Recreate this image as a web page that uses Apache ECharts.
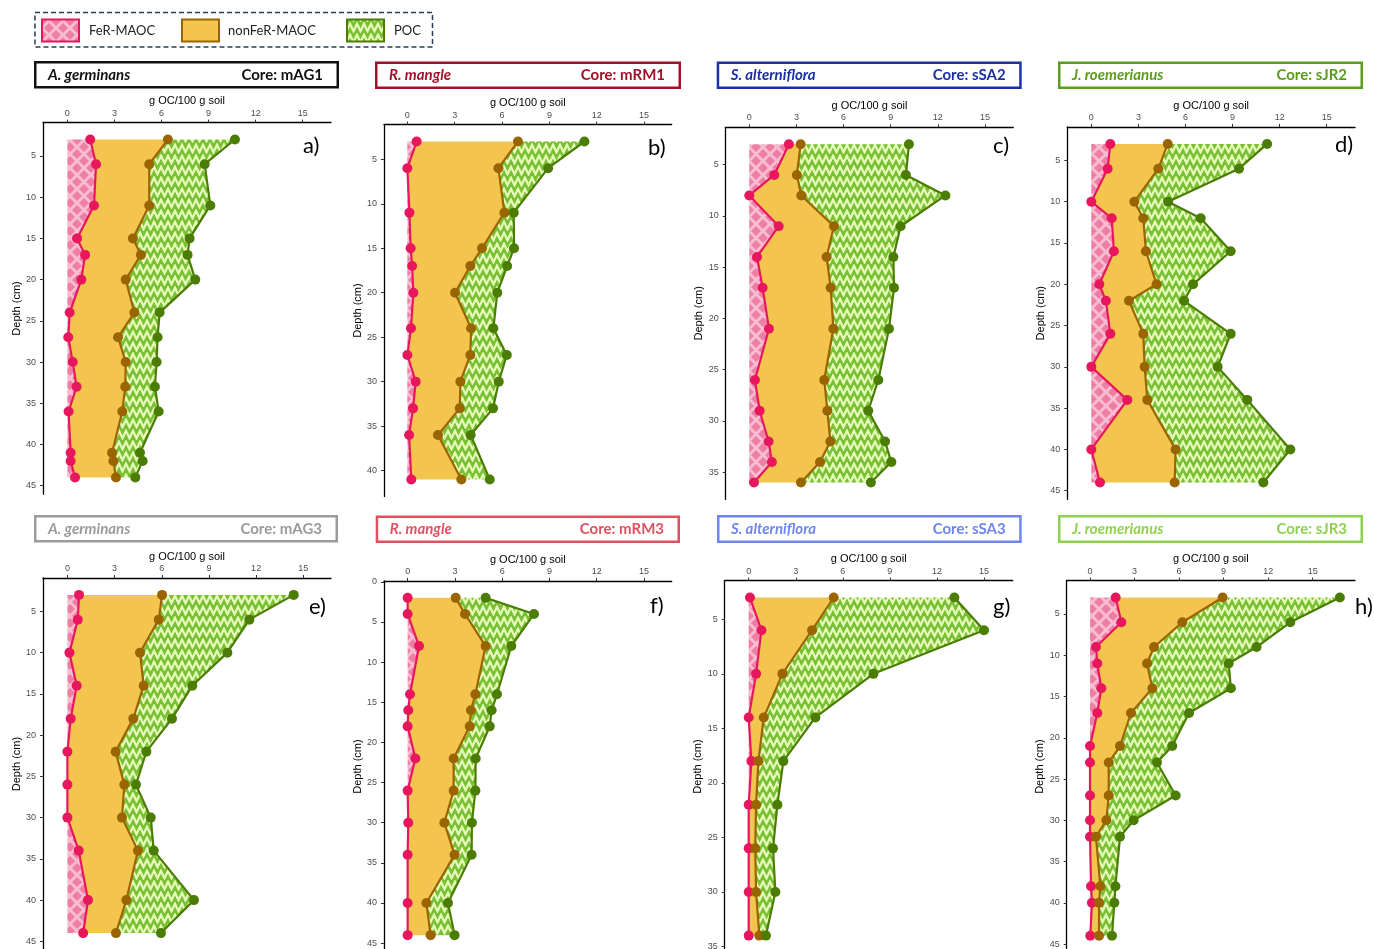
<!DOCTYPE html>
<html>
<head>
<meta charset="utf-8">
<script src="https://cdn.jsdelivr.net/npm/echarts@6.0.0/dist/echarts.min.js"></script>
<style>
html, body { margin: 0; padding: 0; background: #fff; }
#chart { width: 1374px; height: 949px; }
</style>
</head>
<body>
<div id="chart"></div>
<script>
// categories / labels
const legendNames = ['FeR-MAOC', 'nonFeR-MAOC', 'POC'];
const species = ['A. germinans', 'R. mangle', 'S. alterniflora', 'J. roemerianus',
                 'A. germinans', 'R. mangle', 'S. alterniflora', 'J. roemerianus'];
const cores = ['mAG1', 'mRM1', 'sSA2', 'sJR2', 'mAG3', 'mRM3', 'sSA3', 'sJR3'];
const letters = ['a)', 'b)', 'c)', 'd)', 'e)', 'f)', 'g)', 'h)'];
const xTicks = [0, 3, 6, 9, 12, 15];
const depthTicks = [0, 5, 10, 15, 20, 25, 30, 35, 40, 45];

// a) mAG1
const depthA = [3, 6, 11, 15, 17, 20, 24, 27, 30, 33, 36, 41, 42, 44];
const ferA = [1.46, 1.83, 1.70, 0.62, 1.13, 0.89, 0.15, 0.06, 0.34, 0.59, 0.08, 0.21, 0.21, 0.49];
const nonferA = [4.95, 3.39, 3.52, 3.56, 3.56, 2.83, 4.12, 3.17, 3.38, 3.10, 3.42, 2.64, 2.72, 2.61];
const pocA = [4.27, 3.53, 3.89, 3.61, 2.97, 4.43, 1.61, 2.52, 1.97, 1.89, 2.32, 1.78, 1.87, 1.23];
// b) mRM1
const depthB = [3, 6, 11, 15, 17, 20, 24, 27, 30, 33, 36, 41];
const ferB = [0.59, 0.0, 0.13, 0.21, 0.30, 0.38, 0.23, 0.0, 0.53, 0.36, 0.11, 0.25];
const nonferB = [6.42, 5.77, 6.02, 4.52, 3.69, 2.64, 3.81, 3.99, 2.83, 2.96, 1.83, 3.17];
const pocB = [4.21, 3.15, 0.59, 2.03, 2.33, 2.68, 1.41, 2.31, 2.43, 2.11, 2.07, 1.80];
// c) sSA2
const depthC = [3, 6, 8, 11, 14, 17, 21, 26, 29, 32, 34, 36];
const ferC = [2.52, 1.59, 0.0, 1.87, 0.49, 0.85, 1.25, 0.36, 0.66, 1.23, 1.44, 0.30];
const nonferC = [0.75, 1.44, 3.31, 3.52, 4.43, 4.33, 4.10, 4.41, 4.31, 3.93, 3.06, 2.99];
const pocC = [6.89, 6.94, 9.17, 4.24, 4.25, 4.03, 3.54, 3.44, 2.60, 3.48, 4.54, 4.45];
// d) sJR2
const depthD = [3, 6, 10, 12, 16, 20, 22, 26, 30, 34, 40, 44];
const ferD = [1.21, 1.04, 0.0, 1.30, 1.44, 0.51, 0.93, 1.21, 0.0, 2.29, 0.0, 0.55];
const nonferD = [3.66, 3.23, 2.74, 2.01, 2.04, 3.65, 1.47, 2.10, 3.40, 1.28, 5.37, 4.76];
const pocD = [6.33, 5.14, 2.15, 3.66, 5.40, 2.32, 3.51, 5.57, 4.65, 6.37, 7.31, 5.65];
// e) mAG3
const depthE = [3, 6, 10, 14, 18, 22, 26, 30, 34, 40, 44];
const ferE = [0.74, 0.66, 0.13, 0.59, 0.21, 0.0, 0.0, 0.0, 0.72, 1.31, 1.0];
const nonferE = [5.28, 5.15, 4.49, 4.26, 3.98, 3.07, 3.62, 3.47, 3.77, 2.44, 2.09];
const pocE = [8.37, 5.76, 5.55, 3.09, 2.46, 1.95, 0.74, 1.83, 1.00, 4.30, 2.86];
// f) mRM3
const depthF = [2, 4, 8, 14, 16, 18, 22, 26, 30, 34, 40, 44];
const ferF = [0.0, 0.0, 0.72, 0.15, 0.04, 0.0, 0.49, 0.0, 0.04, 0.0, 0.0, 0.0];
const nonferF = [3.05, 3.64, 4.23, 4.15, 3.98, 3.94, 2.43, 2.92, 2.29, 2.98, 1.19, 1.46];
const pocF = [1.90, 4.38, 1.63, 1.37, 1.31, 1.27, 1.40, 1.38, 1.75, 1.08, 1.37, 1.52];
// g) sSA3
const depthG = [3, 6, 10, 14, 18, 22, 26, 30, 34];
const ferG = [0.08, 0.81, 0.47, 0.0, 0.17, 0.0, 0.0, 0.0, 0.0];
const nonferG = [5.34, 3.23, 1.68, 0.96, 0.45, 0.47, 0.42, 0.47, 0.68];
const pocG = [7.69, 10.96, 5.80, 3.29, 1.59, 1.36, 1.13, 1.23, 0.42];
// h) sJR3
const depthH = [3, 6, 9, 11, 14, 17, 21, 23, 27, 30, 32, 38, 40, 44];
const ferH = [1.73, 2.11, 0.40, 0.49, 0.76, 0.49, 0.0, 0.0, 0.0, 0.0, 0.0, 0.07, 0.13, 0.02];
const nonferH = [7.20, 4.11, 3.91, 3.35, 3.44, 2.27, 2.02, 1.26, 1.26, 1.10, 0.40, 0.63, 0.48, 0.59];
const pocH = [7.90, 7.27, 6.91, 5.50, 5.29, 3.91, 3.52, 3.25, 4.51, 1.84, 1.62, 1.01, 1.03, 0.87];

const depths = [depthA, depthB, depthC, depthD, depthE, depthF, depthG, depthH];
const fers = [ferA, ferB, ferC, ferD, ferE, ferF, ferG, ferH];
const nonfers = [nonferA, nonferB, nonferC, nonferD, nonferE, nonferF, nonferG, nonferH];
const pocs = [pocA, pocB, pocC, pocD, pocE, pocF, pocG, pocH];

// layout (pixels)
const grids = [
    { left: 43, top: 122.6, width: 288, height: 371.7 },
    { left: 384, top: 124.6, width: 287.7, height: 371.8 },
    { left: 725.7, top: 127.3, width: 287.6, height: 372.1 },
    { left: 1067.3, top: 127, width: 287.7, height: 372.4 },
    { left: 43, top: 578, width: 288, height: 372 },
    { left: 384, top: 581, width: 287.7, height: 371 },
    { left: 724.7, top: 580.6, width: 288, height: 371.9 },
    { left: 1066.7, top: 580.6, width: 288.3, height: 372.1 }
];
const xMin = [-1.55, -1.48, -1.5, -1.53, -1.55, -1.5, -1.53, -1.57];
const xMax = [16.8, 16.75, 16.8, 16.8, 16.76, 16.76, 16.83, 17.85];
const boxColor = ['#111111', '#a3102a', '#1c30a6', '#5a9c1e', '#9b9b9b', '#e0505f', '#6e86ee', '#8fd24f'];
const boxes = [ // outer edges x0, y0, x1, y1
    [34, 61, 339, 88.5], [375, 61.5, 681, 89], [716.7, 61.5, 1021.7, 89], [1058, 61.5, 1363, 89],
    [34, 515, 338, 542.5], [375.7, 515.5, 680, 543], [717, 515, 1021.7, 543], [1058, 515, 1363, 543]
];
const letterPos = [[303, 146], [648, 148], [993, 146], [1335, 145], [309, 607], [650, 606], [993, 607], [1355, 607]];

const pinkLine = '#e8175d', brownLine = '#9a6500', greenLine = '#4b7d05';

function hatchPattern() {
    const s = 14;
    const c = document.createElement('canvas');
    c.width = s; c.height = s;
    const g = c.getContext('2d');
    g.fillStyle = '#ee7ea6';
    g.fillRect(0, 0, s, s);
    g.strokeStyle = '#f8bdd1';
    g.lineWidth = 2.8;
    for (let k = -1; k <= 1; k++) {
        g.beginPath(); g.moveTo(k * s, 0); g.lineTo(k * s + s, s); g.stroke();
        g.beginPath(); g.moveTo(k * s, s); g.lineTo(k * s + s, 0); g.stroke();
    }
    return { image: c, repeat: 'repeat' };
}

function zigzagPattern() {
    const w = 7, h = 11;
    const c = document.createElement('canvas');
    c.width = w; c.height = h;
    const g = c.getContext('2d');
    g.fillStyle = '#79c034';
    g.fillRect(0, 0, w, h);
    g.strokeStyle = '#e5f9b8';
    g.lineWidth = 2.3;
    g.beginPath();
    g.moveTo(-w / 2, 9.2); g.lineTo(0, 1.8); g.lineTo(w / 2, 9.2); g.lineTo(w, 1.8); g.lineTo(w * 1.5, 9.2);
    g.stroke();
    return { image: c, repeat: 'repeat' };
}

const hatch = hatchPattern();
const zig = zigzagPattern();
const orangeFill = '#f4c54e';
const axisFont = 'Liberation Sans';

const xAxis = [], yAxis = [], series = [], graphic = [];

for (let i = 0; i < 8; i++) {
    const d = depths[i];
    const c1 = fers[i].slice();
    const c2 = c1.map((v, j) => v + nonfers[i][j]);
    const c3 = c2.map((v, j) => v + pocs[i][j]);
    const lo = Math.min(...d), hi = Math.max(...d), pad = (hi - lo) * 0.05;
    const yMin = lo - pad, yMax = hi + pad;
    const yt = depthTicks.filter(v => v >= yMin && v <= yMax);

    xAxis.push({
        gridIndex: i, type: 'value', position: 'top', min: xMin[i], max: xMax[i],
        name: 'g OC/100 g soil', nameLocation: 'middle', nameGap: 16,
        nameTextStyle: { color: '#000', fontSize: 11, fontFamily: axisFont },
        axisLine: { show: true, onZero: false, lineStyle: { color: '#000', width: 1.3 } },
        axisTick: { show: true, customValues: xTicks, length: 3, lineStyle: { color: '#333' } },
        axisLabel: { customValues: xTicks, color: '#4d4d4d', fontSize: 9, margin: 5, fontFamily: axisFont },
        splitLine: { show: false }
    });
    yAxis.push({
        gridIndex: i, type: 'value', inverse: true, min: yMin, max: yMax,
        name: 'Depth (cm)', nameLocation: 'middle', nameGap: 20, nameRotate: 90,
        nameTextStyle: { color: '#000', fontSize: 11, fontFamily: axisFont },
        axisLine: { show: true, onZero: false, lineStyle: { color: '#000', width: 1.3 } },
        axisTick: { show: true, customValues: yt, length: 3, lineStyle: { color: '#333' } },
        axisLabel: { customValues: yt, color: '#4d4d4d', fontSize: 9, margin: 7, fontFamily: axisFont },
        splitLine: { show: false }
    });

    // stacked fills between the cumulative profiles
    series.push({
        type: 'custom', xAxisIndex: i, yAxisIndex: i, z: 1, silent: true,
        data: [0],
        renderItem: function (params, api) {
            const band = (left, right) => left.map((v, j) => api.coord([v, d[j]]))
                .concat(right.map((v, j) => api.coord([v, d[j]])).reverse());
            const zeros = d.map(() => 0);
            return {
                type: 'group',
                children: [
                    { type: 'polygon', shape: { points: band(zeros, c1) }, style: { fill: hatch } },
                    { type: 'polygon', shape: { points: band(c1, c2) }, style: { fill: orangeFill } },
                    { type: 'polygon', shape: { points: band(c2, c3) }, style: { fill: zig } }
                ]
            };
        }
    });

    [[c1, pinkLine], [c2, brownLine], [c3, greenLine]].forEach(function (item, k) {
        series.push({
            type: 'line', name: legendNames[k], xAxisIndex: i, yAxisIndex: i, z: 3 + k, silent: true,
            data: item[0].map((v, j) => [v, d[j]]),
            symbol: 'circle', symbolSize: 10, showSymbol: true,
            lineStyle: { color: item[1], width: 2.2 },
            itemStyle: { color: item[1] }
        });
    });

    // title box
    const b = boxes[i];
    graphic.push({
        type: 'rect', shape: { x: b[0] + 1.25, y: b[1] + 1.25, width: b[2] - b[0] - 2.5, height: b[3] - b[1] - 2.5 },
        style: { fill: '#fff', stroke: boxColor[i], lineWidth: 2.5 }
    });
    graphic.push({
        type: 'text', x: b[0] + 14, y: (b[1] + b[3]) / 2,
        style: { text: species[i], fill: boxColor[i], font: 'italic bold 15px Lato', textAlign: 'left', textVerticalAlign: 'middle' }
    });
    graphic.push({
        type: 'text', x: b[2] - 16, y: (b[1] + b[3]) / 2,
        style: { text: 'Core: ' + cores[i], fill: boxColor[i], font: 'bold 15px Lato', textAlign: 'right', textVerticalAlign: 'middle' }
    });
    graphic.push({
        type: 'text', x: letterPos[i][0], y: letterPos[i][1],
        style: { text: letters[i], fill: '#000', font: '22px Lato', textAlign: 'left', textVerticalAlign: 'middle' }
    });
}

// legend
graphic.push({
    type: 'rect', shape: { x: 35, y: 12.5, width: 397.5, height: 34.5 },
    style: { fill: 'none', stroke: '#2b3a55', lineWidth: 1.5, lineDash: [5, 3] }
});
const legendSwatch = [[42, hatch, pinkLine], [182, orangeFill, brownLine], [347, zig, greenLine]];
const legendText = [89, 228, 394];
legendNames.forEach(function (name, k) {
    const sw = legendSwatch[k];
    graphic.push({
        type: 'rect', shape: { x: sw[0], y: 19.5, width: 37, height: 22 },
        style: { fill: sw[1], stroke: sw[2], lineWidth: 2 }
    });
    graphic.push({
        type: 'text', x: legendText[k], y: 31,
        style: { text: name, fill: '#222', font: '13px Lato', textAlign: 'left', textVerticalAlign: 'middle' }
    });
});

const chart = echarts.init(document.getElementById('chart'), null, { renderer: 'canvas' });
chart.setOption({
    animation: false,
    backgroundColor: '#fff',
    grid: grids.map(g => Object.assign({ containLabel: false, outerBoundsMode: 'none' }, g)),
    xAxis: xAxis,
    yAxis: yAxis,
    series: series,
    graphic: graphic
});
</script>
</body>
</html>
